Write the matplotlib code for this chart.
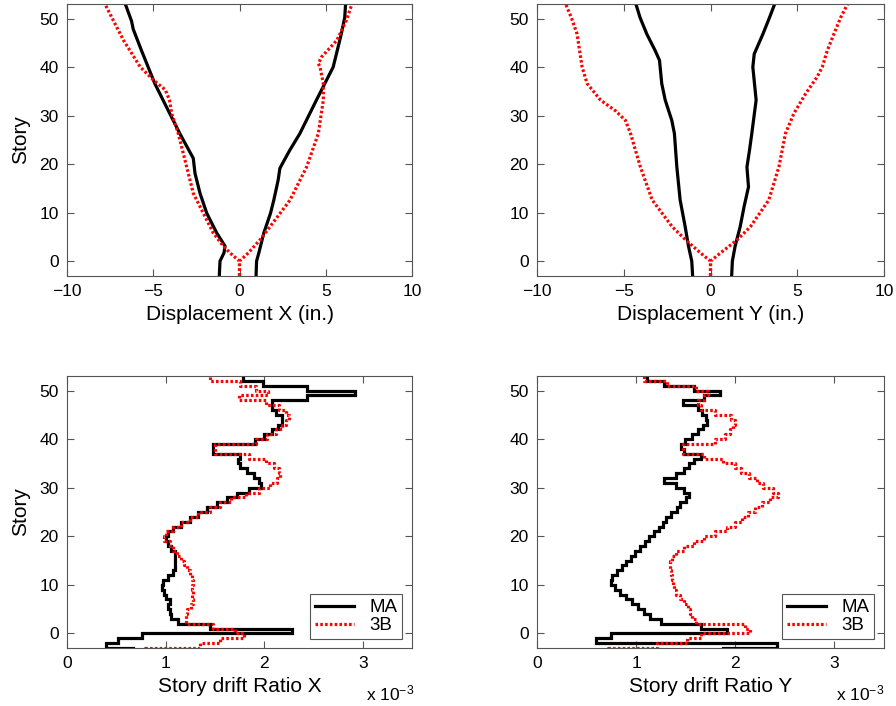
import matplotlib
matplotlib.use("Agg")
import matplotlib.pyplot as plt
import numpy as np

# --- top: peak displacement envelopes (story, displacement in.) ---
ma_x_left_story = [-3, 0, 1.7, 3.1, 5.8, 9.9, 14, 18.1, 21.2, 26.3, 30.4, 36.6, 43.4, 47.8, 49.5, 53]
ma_x_left = [-1.17, -1.13, -0.90, -0.84, -1.32, -1.90, -2.29, -2.58, -2.68, -3.46, -4.04, -4.91, -5.68, -6.16, -6.26, -6.62]
ma_x_right_story = [-3, 0, 1.7, 5.8, 9.9, 12.6, 16.7, 19.1, 19.8, 22.9, 26.3, 33.2, 40, 46.8, 50.2, 53]
ma_x_right = [0.96, 0.99, 1.12, 1.41, 1.80, 1.99, 2.24, 2.34, 2.44, 2.92, 3.50, 4.46, 5.43, 5.90, 6.10, 6.15]
b3_x_left_story = [-3, 0, 1.7, 3.1, 5.8, 9.9, 14, 19.4, 26.3, 30.4, 33.2, 35.3, 37.3, 40, 45.5, 49.5, 53]
b3_x_left = [0, 0, -0.55, -0.94, -1.52, -2.10, -2.68, -3.06, -3.55, -3.93, -4.06, -4.30, -4.98, -5.75, -6.72, -7.30, -7.80]
b3_x_right_story = [-3, 0, 1.7, 4.4, 7.1, 12.6, 19.4, 26.3, 33.2, 36.6, 40, 40.7, 42.1, 45.5, 49.5, 53]
b3_x_right = [0, 0, 0.51, 1.19, 1.77, 2.93, 3.89, 4.57, 4.86, 4.86, 4.67, 4.57, 4.76, 5.64, 6.18, 6.52]

ma_y_left_story = [-3, 0, 3.1, 7.1, 12.6, 19.4, 26.3, 29, 33.2, 36.6, 41.4, 43.4, 46.8, 50.2, 53]
ma_y_left = [-1.03, -1.08, -1.27, -1.46, -1.75, -1.94, -2.08, -2.23, -2.61, -2.81, -2.94, -3.19, -3.67, -4.06, -4.30]
ma_y_right_story = [-3, 0, 3.1, 7.1, 11.3, 15.3, 19.4, 22.9, 26.3, 33.2, 40, 42.7, 46.8, 50.2, 53]
ma_y_right = [1.22, 1.26, 1.42, 1.71, 1.94, 2.19, 2.10, 2.25, 2.38, 2.63, 2.44, 2.52, 3.02, 3.40, 3.70]
b3_y_left_story = [-3, 0, 1.7, 4.4, 7.1, 12.6, 19.4, 26.3, 29, 31, 33.2, 36.6, 40, 46.8, 50.2, 53]
b3_y_left = [0, 0, -0.58, -1.44, -2.21, -3.36, -4.04, -4.61, -4.90, -5.48, -6.34, -7.11, -7.40, -7.69, -8.02, -8.35]
b3_y_right_story = [-3, 0, 1.7, 4.4, 7.1, 12.6, 19.4, 26.3, 30.4, 34.5, 38, 40, 43.4, 46.8, 50.2, 53]
b3_y_right = [0, 0, 0.58, 1.54, 2.30, 3.36, 3.94, 4.32, 4.80, 5.48, 6.15, 6.44, 6.73, 7.11, 7.50, 7.90]

# --- bottom: story drift ratio (x 10^-3), one value per story -4..52 ---
story_edges = np.arange(-4, 54)
drift_ma_x = [0.67,
              0.40, 0.52, 0.76, 2.28, 1.45, 1.13, 1.06, 1.04, 1.02, 1.04,
              1.00, 0.98, 0.96, 0.97, 1.02, 1.08, 1.10, 1.10, 1.10, 1.10,
              1.05, 1.02, 1.00, 1.02, 1.08, 1.16, 1.25, 1.33, 1.42, 1.52,
              1.62, 1.72, 1.85, 1.97, 1.95, 1.90, 1.83, 1.76, 1.73, 1.75,
              1.48, 1.48, 1.91, 2.00, 2.08, 2.14, 2.18, 2.18, 2.12, 2.08,
              2.08, 2.43, 2.92, 2.43, 1.99, 1.79]
drift_3b_x = [0.79,
              1.35, 1.55, 1.80, 1.70, 1.48, 1.21, 1.21, 1.22, 1.26, 1.28,
              1.27, 1.28, 1.27, 1.28, 1.27, 1.25, 1.22, 1.19, 1.16, 1.12,
              1.08, 1.04, 0.98, 1.00, 1.08, 1.16, 1.25, 1.33, 1.45, 1.55,
              1.66, 1.82, 1.95, 2.06, 2.13, 2.16, 2.15, 2.10, 2.02, 1.85,
              1.50, 1.50, 1.92, 2.03, 2.12, 2.18, 2.22, 2.25, 2.22, 2.15,
              2.02, 1.74, 2.04, 1.92, 1.76, 1.45]
drift_ma_y = [1.88,
              2.42, 0.60, 0.75, 1.92, 1.65, 1.25, 1.14, 1.08, 1.02, 0.96,
              0.90, 0.84, 0.79, 0.75, 0.76, 0.81, 0.86, 0.90, 0.95, 0.99,
              1.04, 1.09, 1.13, 1.18, 1.23, 1.27, 1.30, 1.35, 1.41, 1.44,
              1.50, 1.53, 1.48, 1.40, 1.28, 1.40, 1.48, 1.53, 1.58, 1.65,
              1.48, 1.45, 1.49, 1.56, 1.62, 1.67, 1.71, 1.70, 1.66, 1.62,
              1.47, 1.68, 1.85, 1.58, 1.28, 1.11]
drift_3b_y = [0.72,
              1.21, 1.51, 1.65, 2.15, 2.10, 1.60, 1.56, 1.54, 1.52, 1.48,
              1.44, 1.40, 1.38, 1.37, 1.36, 1.35, 1.34, 1.34, 1.36, 1.40,
              1.48, 1.58, 1.68, 1.80, 1.92, 2.00, 2.07, 2.13, 2.20, 2.27,
              2.35, 2.43, 2.38, 2.28, 2.22, 2.14, 2.06, 2.00, 1.88, 1.68,
              1.47, 1.47, 1.80, 1.90, 1.95, 1.98, 2.00, 1.96, 1.80, 1.65,
              1.62, 1.68, 1.72, 1.60, 1.31, 1.08]

labels = ["MA", "3B"]


def style_axes(ax):
    for s in ax.spines.values():
        s.set_color("#555555")
        s.set_linewidth(0.8)
    ax.tick_params(direction="in", top=True, right=True, length=5, width=0.8,
                   color="#555555", labelsize=12.5, pad=6)
    ax.set_ylim(-3, 53)
    ax.set_yticks(range(0, 51, 10))


def stairs_xy(values, edges):
    # vertical step profile: each story value spans [edge_i, edge_i+1]
    x = np.repeat(values, 2)
    y = np.column_stack([edges[:-1], edges[1:]]).ravel()
    return x, y


def main():
    plt.rcParams["font.family"] = ["Liberation Sans", "DejaVu Sans"]
    plt.rcParams["mathtext.default"] = "regular"

    fig = plt.figure(figsize=(8.96, 7.06), dpi=100)
    W, H = 896, 706

    def box(l, t, r, b):
        return (l / W, 1 - b / H, (r - l) / W, (b - t) / H)

    ax_dx = fig.add_axes(box(67, 4, 412, 275.7))
    ax_dy = fig.add_axes(box(537, 4, 884, 275.7))
    ax_rx = fig.add_axes(box(67, 376, 412, 648))
    ax_ry = fig.add_axes(box(537, 376, 884, 648))

    black = dict(color="black", lw=2.3, solid_joinstyle="miter")
    red = dict(color="red", lw=2.3, linestyle=(0, (0.8, 0.7)))

    # displacement envelopes
    ax_dx.plot(ma_x_left, ma_x_left_story, **black)
    ax_dx.plot(ma_x_right, ma_x_right_story, **black)
    ax_dx.plot(b3_x_left, b3_x_left_story, **red)
    ax_dx.plot(b3_x_right, b3_x_right_story, **red)
    ax_dy.plot(ma_y_left, ma_y_left_story, **black)
    ax_dy.plot(ma_y_right, ma_y_right_story, **black)
    ax_dy.plot(b3_y_left, b3_y_left_story, **red)
    ax_dy.plot(b3_y_right, b3_y_right_story, **red)

    for ax, name in [(ax_dx, "X"), (ax_dy, "Y")]:
        style_axes(ax)
        ax.set_xlim(-10, 10)
        ax.set_xticks([-10, -5, 0, 5, 10])
        ax.set_xlabel(f"Displacement {name} (in.)", fontsize=15, labelpad=4)

    # drift ratio profiles
    for ax, ma, b3, name, xoff in [(ax_rx, drift_ma_x, drift_3b_x, "X", 366),
                                   (ax_ry, drift_ma_y, drift_3b_y, "Y", 836)]:
        ax.plot(*stairs_xy(ma, story_edges), label=labels[0], **black)
        ax.plot(*stairs_xy(b3, story_edges), label=labels[1], **red)
        style_axes(ax)
        ax.set_xlim(0, 3.5)
        ax.set_xticks([0, 1, 2, 3])
        ax.set_xlabel(f"Story drift Ratio {name}", fontsize=15, labelpad=4)
        leg = ax.legend(loc="lower right", bbox_to_anchor=(0.971, 0.033),
                        borderaxespad=0, fancybox=False, framealpha=1,
                        edgecolor="#555555", fontsize=13.5, handlelength=2.1,
                        borderpad=0.25, labelspacing=0.05, handletextpad=0.8)
        leg.get_frame().set_linewidth(0.8)
        fig.text(xoff / W, 1 - 693 / H, "x 10$^{-3}$", fontsize=12.5,
                 va="center", ha="left")

    ax_dx.set_ylabel("Story", fontsize=15, labelpad=7)
    ax_rx.set_ylabel("Story", fontsize=15, labelpad=7)

    plt.savefig("out.png", dpi=100)


if __name__ == "__main__":
    main()
